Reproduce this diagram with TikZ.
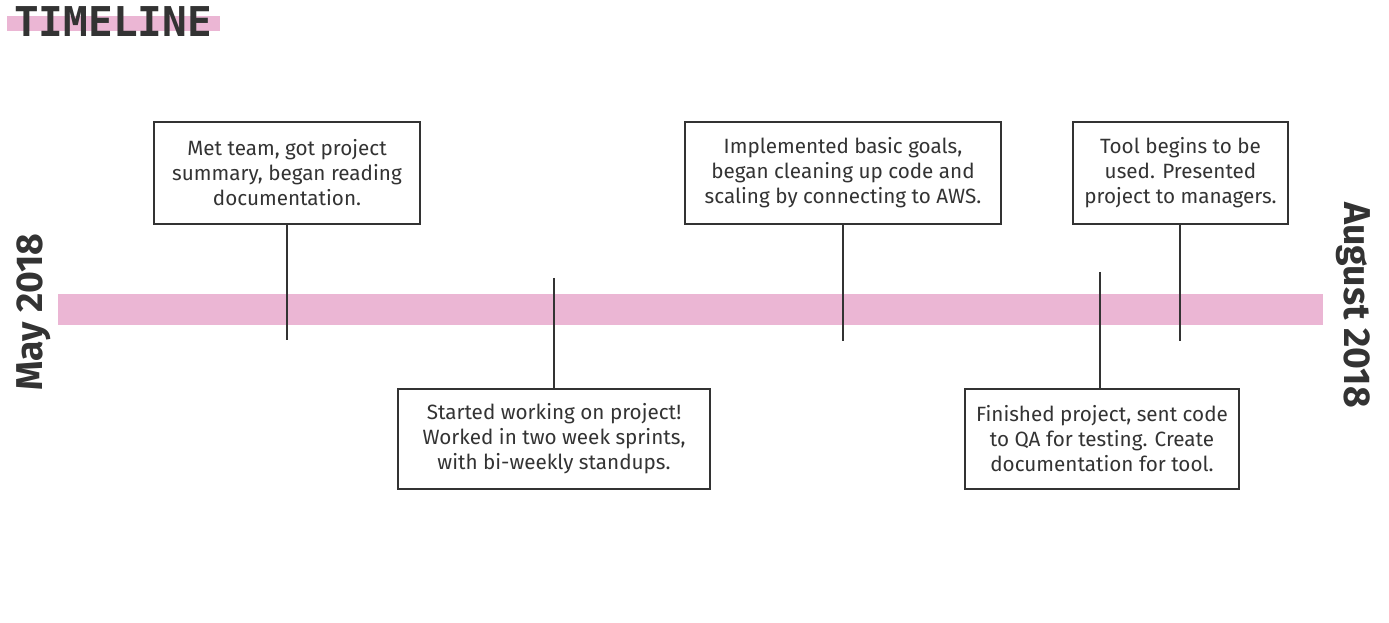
\documentclass[tikz,border=0pt]{standalone}
\usepackage{fontspec}
\usepackage{xcolor}
\usepackage{tikz}
\usetikzlibrary{calc,positioning}

\newfontfamily\boxfont{Fira Sans}
\newfontfamily\datefont{Fira Sans}
\newfontfamily\titlefont{DejaVu Sans Mono}

\definecolor{barpink}{RGB}{235,182,212}
\definecolor{inkgray}{RGB}{51,51,51}

\tikzset{
  event/.style={draw=inkgray, line width=1.5pt, fill=white, text=inkgray,
    align=center, inner sep=0pt, font=\boxfont\fontsize{15.5}{18.75}\selectfont},
  stem/.style={draw=inkgray, line width=1.8pt},
  datelabel/.style={text=inkgray, inner sep=0pt, font=\datefont\bfseries\fontsize{28}{30}\selectfont}
}

\begin{document}
\begin{tikzpicture}[x=0.75pt,y=-0.75pt]
  \useasboundingbox (0,0) rectangle (1389,623);

% タイトル
\fill[barpink] (7,16) rectangle (220,31);
\node[text=inkgray, anchor=base west, inner sep=0pt,
  font=\titlefont\bfseries\fontsize{30.8}{32}\selectfont] (title) at (14,37) {TIMELINE};

% タイムラインの帯
\fill[barpink] (58,294) rectangle (1323,325);

% 両端の日付
\node[datelabel, rotate=90] (start) at (34,312) {May 2018};
\node[datelabel, rotate=-90] (finish) at (1353,305) {August 2018};

% 出来事の箱
\node[event, minimum width=266*0.75pt, minimum height=102*0.75pt] (met) at (287,173)
  {Met team, got project\\summary, began reading\\documentation.};
\node[event, minimum width=312*0.75pt, minimum height=100*0.75pt] (started) at (554,439)
  {Started working on project!\\Worked in two week sprints,\\with bi-weekly standups.};
\node[event, minimum width=316*0.75pt, minimum height=102*0.75pt] (implemented) at (843,173)
  {Implemented basic goals,\\began cleaning up code and\\scaling by connecting to AWS.};
\node[event, minimum width=274*0.75pt, minimum height=100*0.75pt] (finished) at (1102,439)
  {Finished project, sent code\\to QA for testing. Create\\documentation for tool.};
\node[event, minimum width=215*0.75pt, minimum height=102*0.75pt] (presented) at (1180.5,173)
  {Tool begins to be\\used. Presented\\project to managers.};

% 帯までの線
\coordinate (metend) at (287,340);
\coordinate (startedend) at (554,278);
\coordinate (implementedend) at (843,341);
\coordinate (finishedend) at (1100,272);
\coordinate (presentedend) at (1180,341);

\foreach \ev in {met,implemented,presented} {
    \draw[stem] (\ev end |- \ev.south) -- (\ev end);
}
\draw[stem] (startedend) -- (startedend |- started.north);
\draw[stem] (finishedend) -- (finishedend |- finished.north);

\end{tikzpicture}
\end{document}
